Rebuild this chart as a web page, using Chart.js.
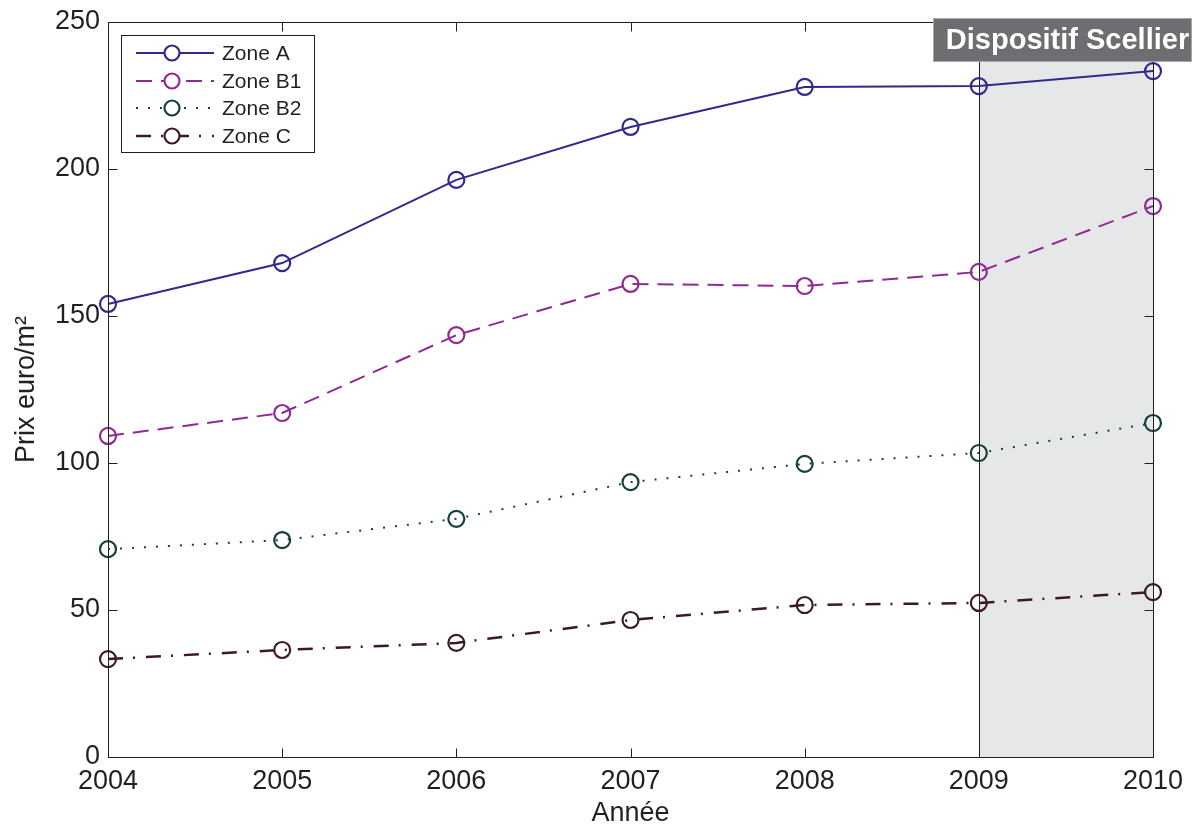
<!DOCTYPE html>
<html>
<head>
<meta charset="utf-8">
<script src="https://cdn.jsdelivr.net/npm/chart.js@4.4.0/dist/chart.umd.min.js"></script>
<style>
  html, body { margin: 0; padding: 0; background: #ffffff; }
  #wrap { width: 1194px; height: 827px; }
</style>
</head>
<body>
<div id="wrap"><canvas id="c" width="1194" height="827"></canvas></div>
<script>
// Years on the x axis
const years = [2004, 2005, 2006, 2007, 2008, 2009, 2010];
// Price per square metre by zone
const zoneA  = [154.1, 168.0, 196.3, 214.3, 227.9, 228.2, 233.3];
const zoneB1 = [109.2, 117.0, 143.5, 160.9, 160.2, 165.0, 187.4];
const zoneB2 = [70.7, 73.8, 81.0, 93.5, 99.7, 103.4, 113.6];
const zoneC  = [33.3, 36.4, 38.8, 46.6, 51.7, 52.4, 56.1];
const seriesNames = ['Zone A', 'Zone B1', 'Zone B2', 'Zone C'];
// Y axis ticks
const yTicks = [0, 50, 100, 150, 200, 250];
// Period highlighted by the shaded band
const scellierStart = 2009;
const scellierEnd = 2010;
const scellierLabel = 'Dispositif Scellier';

const FONT = '"Liberation Sans", Arial, Helvetica, sans-serif';
const INK = '#231f20';

function toPoints(vals) { return years.map((y, i) => ({ x: y, y: vals[i] })); }

const styles = [
  { color: '#2f2a8c', dash: [], width: 2 },
  { color: '#8f2a93', dash: [16, 9], width: 2 },
  { color: '#17403b', dash: [2, 10], width: 2 },
  { color: '#3b1a20', dash: [15, 10, 2, 11], width: 2.5 }
];
const values = [zoneA, zoneB1, zoneB2, zoneC];

const datasets = values.map((v, i) => ({
  label: seriesNames[i],
  data: toPoints(v),
  borderColor: styles[i].color,
  borderWidth: styles[i].width,
  borderDash: styles[i].dash,
  pointRadius: 8,
  pointHoverRadius: 8,
  pointBorderWidth: 2.2,
  pointBorderColor: styles[i].color,
  pointBackgroundColor: 'rgba(0,0,0,0)',
  tension: 0,
  fill: false,
  clip: false
}));

// Shaded band behind the series
const bandPlugin = {
  id: 'band',
  beforeDatasetsDraw(chart) {
    const { ctx, chartArea, scales } = chart;
    const x0 = scales.x.getPixelForValue(scellierStart);
    const x1 = scales.x.getPixelForValue(scellierEnd);
    ctx.save();
    ctx.fillStyle = '#e6e7e8';
    ctx.fillRect(x0, chartArea.top, x1 - x0, chartArea.bottom - chartArea.top);
    ctx.strokeStyle = INK;
    ctx.lineWidth = 1;
    ctx.beginPath();
    ctx.moveTo(Math.round(x0) + 0.5, chartArea.top);
    ctx.lineTo(Math.round(x0) + 0.5, chartArea.bottom);
    ctx.stroke();
    ctx.restore();
  }
};

// Axis box with inward ticks, legend and the band label
const framePlugin = {
  id: 'frame',
  afterDatasetsDraw(chart) {
    const { ctx, chartArea: a, scales } = chart;
    ctx.save();
    ctx.strokeStyle = INK;
    ctx.lineWidth = 1;
    const L = Math.round(a.left) + 0.5, R = Math.round(a.right) + 0.5;
    const T = Math.round(a.top) + 0.5, B = Math.round(a.bottom) + 0.5;
    ctx.strokeRect(L, T, R - L, B - T);
    const tl = 9;
    ctx.beginPath();
    yTicks.forEach(t => {
      const y = Math.round(scales.y.getPixelForValue(t)) + 0.5;
      ctx.moveTo(L, y); ctx.lineTo(L + tl, y);
      ctx.moveTo(R, y); ctx.lineTo(R - tl, y);
    });
    years.forEach(t => {
      const x = Math.round(scales.x.getPixelForValue(t)) + 0.5;
      ctx.moveTo(x, B); ctx.lineTo(x, B - tl);
      ctx.moveTo(x, T); ctx.lineTo(x, T + tl);
    });
    ctx.stroke();

    // Legend
    const lx = 121, ly = 35, lw = 193, lh = 117;
    ctx.fillStyle = '#ffffff';
    ctx.fillRect(lx, ly, lw, lh);
    ctx.strokeRect(lx + 0.5, ly + 0.5, lw, lh);
    const rows = [53, 81, 108, 136];
    chart.data.datasets.forEach((ds, i) => {
      const y = rows[i];
      ctx.save();
      ctx.strokeStyle = ds.borderColor;
      ctx.lineWidth = ds.borderWidth;
      ctx.setLineDash(ds.borderDash);
      ctx.beginPath();
      ctx.moveTo(136, y); ctx.lineTo(214, y);
      ctx.stroke();
      ctx.setLineDash([]);
      ctx.lineWidth = ds.pointBorderWidth;
      ctx.fillStyle = '#ffffff';
      ctx.beginPath();
      ctx.arc(172, y, 7.5, 0, Math.PI * 2);
      ctx.fill();
      ctx.stroke();
      ctx.restore();
      ctx.fillStyle = INK;
      ctx.font = '21px ' + FONT;
      ctx.textBaseline = 'middle';
      ctx.textAlign = 'left';
      ctx.fillText(ds.label, 222, y + 1);
    });

    // Band label
    const bx = 933, by = 18, bw = 259, bh = 44;
    ctx.fillStyle = '#6d6e71';
    ctx.fillRect(bx, by, bw, bh);
    ctx.strokeStyle = '#a7a9ac';
    ctx.strokeRect(bx + 0.5, by + 0.5, bw - 1, bh - 1);
    ctx.fillStyle = '#ffffff';
    ctx.font = 'bold 29px ' + FONT;
    ctx.textAlign = 'center';
    ctx.textBaseline = 'middle';
    ctx.fillText(scellierLabel, bx + bw / 2 + 5, by + bh / 2 + 1);
    ctx.restore();
  }
};

new Chart(document.getElementById('c'), {
  type: 'line',
  data: { datasets },
  options: {
    responsive: false,
    animation: false,
    devicePixelRatio: 1,
    layout: { padding: { top: 22, right: 41, left: 0, bottom: 0 } },
    plugins: { legend: { display: false }, tooltip: { enabled: false } },
    scales: {
      x: {
        type: 'linear',
        min: 2004, max: 2010,
        afterBuildTicks(scale) { scale.ticks = years.map(v => ({ value: v })); },
        afterFit(scale) { scale.height = 70; },
        grid: { display: false, drawTicks: false },
        border: { display: false },
        ticks: {
          color: INK, padding: 8,
          font: { family: FONT, size: 27 },
          maxRotation: 0,
          callback: v => String(v)
        },
        title: {
          display: true, text: 'Année', color: INK,
          font: { family: FONT, size: 27, lineHeight: 1 }, padding: { top: 0, bottom: 0 }
        }
      },
      y: {
        type: 'linear',
        min: 0, max: 250,
        afterBuildTicks(scale) { scale.ticks = yTicks.map(v => ({ value: v })); },
        afterFit(scale) { scale.width = 108; },
        grid: { display: false, drawTicks: false },
        border: { display: false },
        ticks: {
          color: INK, padding: 8,
          font: { family: FONT, size: 27, lineHeight: 1 },
          callback: v => String(v)
        },
        title: {
          display: true, text: 'Prix euro/m²', color: INK,
          font: { family: FONT, size: 27 }, padding: { top: 10, bottom: 0 }
        }
      }
    }
  },
  plugins: [bandPlugin, framePlugin]
});
</script>
</body>
</html>
